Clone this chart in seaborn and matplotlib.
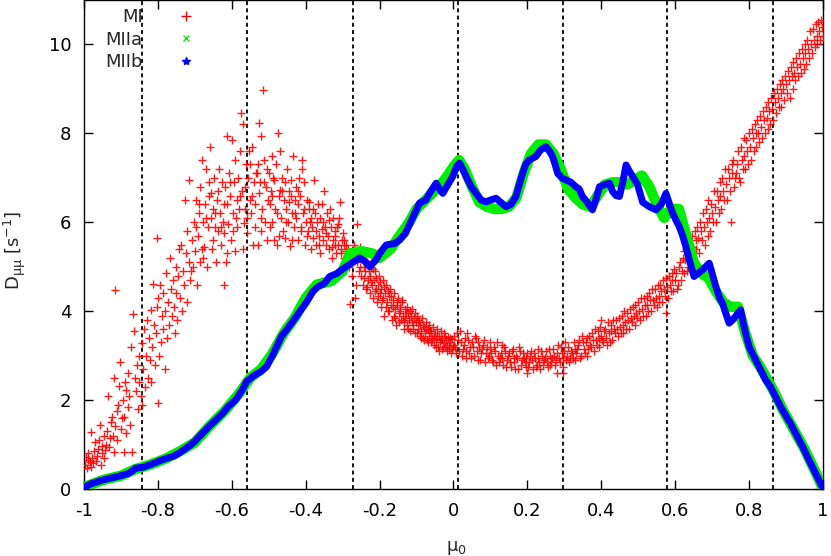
import matplotlib
matplotlib.use("Agg")
import matplotlib.pyplot as plt
from matplotlib.lines import Line2D
import numpy as np
import pandas as pd
import seaborn as sns

# MI scatter, split by region of mu0
mi_edge = [(-0.998,0.55),(-0.995,0.72),(-0.993,0.48),(-0.99,0.65),(-0.988,0.8),(-0.985,0.6),(-0.982,0.5),(-0.98,1.28),
           (-0.978,0.7),(-0.975,0.58),(-0.972,0.85),(-0.97,1.05),(-0.967,0.62),(-0.965,0.75),(-0.962,0.9),(-0.96,1.1),
           (-0.957,1.44),(-0.955,0.55),(-0.952,0.8),(-0.95,0.97),(-0.947,0.7),(-0.945,1.2),(-0.942,0.88),(-0.94,1.0),
           (-0.937,1.3),(-0.935,2.09),(-0.932,0.95),(-0.93,1.15),(-0.927,1.5),(-0.925,1.63),(-0.922,1.2),(-0.92,2.49),
           (-0.918,0.84),(-0.916,4.48),(-0.915,1.42),(-0.912,1.75),(-0.91,1.1),(-0.907,1.9),(-0.905,2.32),(-0.903,2.86),
           (-0.9,1.35),(-0.897,1.6),(-0.895,2.0),(-0.893,1.63),(-0.891,0.84),(-0.889,2.4),(-0.887,1.26),(-0.885,2.23),
           (-0.882,1.85),(-0.88,2.6),(-0.878,2.1),(-0.875,1.45),(-0.872,3.19),(-0.87,0.84),(-0.868,3.94),(-0.866,3.55),
           (-0.863,2.5),(-0.86,2.2),(-0.857,2.8),(-0.855,1.8),(-0.852,3.0),(-0.85,2.4)]
mi_rise = [(-0.847,2.1),(-0.844,3.28),(-0.842,1.9),(-0.84,2.7),(-0.837,3.6),(-0.834,2.3),(-0.832,3.0),(-0.83,3.8),
           (-0.828,2.5),(-0.825,3.4),(-0.822,2.9),(-0.82,4.03),(-0.818,2.4),(-0.815,3.2),(-0.812,4.62),(-0.81,3.7),
           (-0.807,2.8),(-0.805,3.5),(-0.803,5.64),(-0.802,4.1),(-0.8,4.3),(-0.8,1.93),(-0.797,3.0),(-0.795,4.6),
           (-0.792,3.3),(-0.79,3.9),(-0.787,4.4),(-0.785,3.6),(-0.782,2.7),(-0.78,4.0),(-0.777,4.86),(-0.775,3.4),
           (-0.772,4.2),(-0.77,3.7),(-0.767,5.2),(-0.765,4.5),(-0.762,3.9),(-0.76,4.7),(-0.757,4.1),(-0.755,3.5),
           (-0.752,5.0),(-0.75,4.4),(-0.747,3.8),(-0.745,4.8),(-0.742,5.4),(-0.74,4.3),(-0.738,5.5),(-0.735,4.0),
           (-0.732,4.9),(-0.73,4.6),(-0.728,6.5),(-0.725,5.3),(-0.722,4.2),(-0.72,5.8),(-0.717,5.1),(-0.715,6.95),
           (-0.712,4.7),(-0.71,4.9),(-0.707,5.6),(-0.705,5.0),(-0.702,6.0),(-0.7,5.35)]
mi_hump = [(-0.698,6.5),(-0.695,4.6),(-0.692,5.7),(-0.69,6.2),(-0.687,5.1),(-0.685,6.8),(-0.682,5.4),(-0.68,7.4),
           (-0.678,6.0),(-0.675,5.45),(-0.672,6.4),(-0.67,7.2),(-0.667,5.0),(-0.665,5.9),(-0.662,6.6),(-0.66,7.7),
           (-0.657,6.1),(-0.655,6.66),(-0.652,5.6),(-0.65,6.3),(-0.647,7.0),(-0.645,5.9),(-0.643,5.1),(-0.64,6.5),
           (-0.637,5.8),(-0.635,7.2),(-0.632,6.2),(-0.63,5.5),(-0.627,6.9),(-0.625,6.0),(-0.622,4.6),(-0.62,5.75),
           (-0.618,6.8),(-0.615,5.1),(-0.614,7.93),(-0.612,6.4),(-0.61,5.95),(-0.607,7.1),(-0.605,6.6),(-0.602,5.6),
           (-0.6,7.85),(-0.598,6.2),(-0.595,6.9),(-0.592,5.35),(-0.59,7.4),(-0.587,6.5),(-0.585,5.9),(-0.582,7.0),
           (-0.58,6.3),(-0.578,7.6),(-0.575,8.45),(-0.572,6.7),(-0.57,8.2),(-0.567,5.98),(-0.565,6.8),(-0.562,7.3),
           (-0.56,5.75),(-0.558,6.1),(-0.555,7.0),(-0.552,6.5),
           (-0.55,7.3),(-0.547,6.2),(-0.545,7.7),(-0.542,5.5),(-0.54,6.9),(-0.537,6.4),(-0.535,7.1),(-0.533,7.1),
           (-0.53,5.5),(-0.527,6.66),(-0.526,8.24),(-0.523,6.9),(-0.52,7.95),(-0.52,5.8),(-0.517,6.3),(-0.515,8.98),
           (-0.512,7.4),(-0.51,6.0),(-0.507,6.8),(-0.505,7.2),(-0.502,6.5),(-0.5,7.1),(-0.497,5.9),(-0.495,6.7),
           (-0.492,7.5),(-0.49,6.6),(-0.49,6.0),(-0.487,5.6),(-0.485,6.95),(-0.482,6.3),(-0.48,7.3),(-0.477,5.5),
           (-0.475,8.0),(-0.472,6.6),(-0.47,6.73),(-0.47,7.6),(-0.467,6.1),(-0.465,7.0),(-0.462,5.8),(-0.46,6.5),
           (-0.457,6.9),(-0.455,5.65),(-0.452,6.3),(-0.45,7.2),(-0.447,6.0),(-0.445,6.7),(-0.442,5.47),(-0.44,6.95),
           (-0.44,6.6),(-0.437,6.2),(-0.434,7.48),(-0.432,5.9),(-0.43,6.5),(-0.427,6.8),(-0.425,6.1),(-0.422,5.6),
           (-0.42,6.4),(-0.417,7.0),(-0.415,6.6),(-0.412,5.8),(-0.41,7.4),(-0.41,7.2),(-0.407,6.2),(-0.405,6.9),
           (-0.402,5.5)]
mi_hump_fill = [(-0.696,5.9),(-0.688,6.4),(-0.679,5.2),(-0.671,6.1),(-0.663,6.9),(-0.654,5.4),(-0.646,6.2),
                (-0.638,6.7),(-0.629,5.9),(-0.621,6.4),(-0.613,5.3),(-0.604,6.9),(-0.596,5.8),(-0.588,6.1),
                (-0.579,6.6),(-0.571,5.4),(-0.563,6.3),(-0.554,7.6),(-0.546,6.6),(-0.538,5.9),(-0.529,7.3),
                (-0.521,6.1),(-0.513,6.9),(-0.504,5.6),(-0.496,6.4),(-0.488,7.0),(-0.479,6.2),(-0.471,5.7),
                (-0.463,6.7),(-0.454,6.0),(-0.446,6.45),(-0.438,5.6),(-0.429,6.2),(-0.421,6.7),(-0.413,5.9),
                (-0.404,6.3),(-0.396,5.7),(-0.388,6.0),(-0.379,6.3),(-0.371,5.8),(-0.363,5.5),(-0.354,6.0),
                (-0.346,5.75),(-0.338,6.05),(-0.329,5.45),(-0.321,5.7),(-0.313,5.95),(-0.304,5.3),(-0.296,5.6),
                (-0.288,5.25)]
mi_fall = [(-0.4,6.0),(-0.397,6.5),(-0.395,5.8),(-0.392,6.3),(-0.39,6.45),(-0.387,5.4),(-0.385,6.1),(-0.382,5.9),
           (-0.38,5.65),(-0.377,6.95),(-0.375,6.2),(-0.372,5.5),(-0.37,6.0),(-0.367,6.4),(-0.365,5.7),(-0.362,6.1),
           (-0.36,5.3),(-0.357,5.85),(-0.355,6.4),(-0.352,5.6),(-0.35,6.7),(-0.347,5.9),(-0.345,5.5),(-0.342,6.2),
           (-0.34,5.7),(-0.337,5.4),(-0.335,6.3),(-0.332,5.9),(-0.33,5.2),(-0.327,5.6),(-0.325,6.1),(-0.322,5.5),
           (-0.32,5.8),(-0.317,5.3),(-0.315,5.9),(-0.312,5.5),(-0.31,6.1),(-0.308,6.46),(-0.305,5.4),(-0.302,5.6),
           (-0.3,5.75),(-0.297,5.2),(-0.295,5.5),(-0.292,5.35),(-0.29,5.5),(-0.287,5.1),(-0.285,5.4),(-0.282,5.0),
           (-0.28,5.16),(-0.28,4.17),(-0.277,5.3),(-0.275,4.8),(-0.272,5.2),(-0.27,5.5),(-0.267,4.3),(-0.265,4.6),
           (-0.262,5.95),(-0.26,5.1),(-0.257,4.9),(-0.254,5.45),(-0.252,5.0),
           (-0.25,4.8),(-0.247,5.2),(-0.245,4.6),(-0.242,5.0),(-0.24,4.9),(-0.237,4.5),(-0.235,5.1),(-0.232,4.7),
           (-0.23,4.9),(-0.227,4.4),(-0.225,4.8),(-0.222,5.0),(-0.22,4.6),(-0.217,4.3),(-0.215,4.7),(-0.212,4.9),
           (-0.21,4.5),(-0.207,4.2),(-0.205,4.6),(-0.202,4.8),(-0.2,4.4),(-0.197,4.1),(-0.195,4.5),(-0.192,4.7),
           (-0.19,4.3),(-0.187,3.9),(-0.185,4.4),(-0.182,4.6),(-0.18,4.2),(-0.177,4.0),(-0.175,4.35),(-0.172,4.5),
           (-0.17,4.15),(-0.167,3.8),(-0.165,4.25),(-0.162,3.9),(-0.16,4.4),(-0.157,4.05),(-0.155,3.7),(-0.152,4.15),
           (-0.15,4.3),(-0.147,3.95),(-0.145,4.1),(-0.142,3.8),(-0.14,4.2),(-0.137,3.9),(-0.135,3.6),(-0.132,4.05),
           (-0.13,3.85),(-0.127,4.1),(-0.125,3.7),(-0.122,3.95),(-0.12,3.8),(-0.117,3.55),(-0.115,3.9),(-0.112,4.05),
           (-0.11,3.7),(-0.107,3.85),(-0.105,3.5),(-0.102,3.75),(-0.1,3.9),(-0.097,3.6),(-0.095,3.8),(-0.092,3.45),
           (-0.09,3.7),(-0.087,3.55),(-0.085,3.85),(-0.082,3.4),(-0.08,3.65),(-0.077,3.5),(-0.075,3.75),(-0.072,3.35),
           (-0.07,3.6),(-0.067,3.45),(-0.065,3.7),(-0.062,3.3),(-0.06,3.55),(-0.057,3.4),(-0.055,3.65),(-0.052,3.25),
           (-0.05,3.5),(-0.047,3.38),(-0.045,3.6),(-0.042,3.2),(-0.04,3.45),(-0.037,3.3),(-0.035,3.55),(-0.032,3.15),
           (-0.03,3.4),(-0.027,3.28),(-0.025,3.5),(-0.022,3.2),(-0.02,3.35),(-0.017,3.1),(-0.015,3.42),(-0.012,3.25),
           (-0.01,3.3),(-0.007,3.05),(-0.005,3.38),(-0.002,3.2)]
mi_fall_fill = [(-0.2485,5.3),(-0.2435,4.75),(-0.2385,5.15),(-0.2335,4.55),(-0.2285,5.05),(-0.2235,4.65),
                (-0.2185,4.95),(-0.2135,4.45),(-0.2085,4.75),(-0.2035,4.35),(-0.1985,4.65),(-0.1935,4.25),
                (-0.1885,4.55),(-0.1835,4.1),(-0.1785,4.45),(-0.1735,4.0),(-0.1685,4.35),(-0.1635,4.1),
                (-0.1585,3.85),(-0.1535,4.2),(-0.1485,3.75),(-0.1435,4.0),(-0.1385,4.25),(-0.1335,3.75),
                (-0.1285,3.95),(-0.1235,3.6),(-0.1185,4.0),(-0.1135,3.75),(-0.1085,3.6),(-0.1035,3.95),
                (-0.0985,3.5),(-0.0935,3.75),(-0.0885,3.4),(-0.0835,3.7),(-0.0785,3.35),(-0.0735,3.6),
                (-0.0685,3.3),(-0.0635,3.55),(-0.0585,3.35),(-0.0535,3.45),(-0.0485,3.2),(-0.0435,3.45),
                (-0.0385,3.1),(-0.0335,3.35),(-0.0285,3.2),(-0.0235,3.45),(-0.0185,3.2),(-0.0135,3.15),
                (-0.0085,3.4),(-0.0035,3.15)]
mi_valley = [(0.0,3.45),(0.005,3.2),(0.01,3.5),(0.015,3.1),(0.02,3.3),(0.025,3.15),(0.03,3.4),(0.035,2.95),
             (0.04,3.35),(0.045,3.2),(0.05,3.3),(0.055,3.0),(0.06,3.4),(0.065,2.9),(0.07,3.2),(0.075,3.05),
             (0.08,3.25),(0.085,2.85),(0.09,3.2),(0.095,3.0),(0.1,3.15),(0.105,2.9),(0.11,3.2),(0.115,2.8),
             (0.12,3.0),(0.125,2.95),(0.13,3.25),(0.135,2.8),(0.14,3.1),(0.145,2.9),(0.15,3.05),(0.155,2.75),
             (0.16,3.15),(0.165,2.85),(0.17,3.0),(0.175,2.7),(0.18,3.1),(0.185,2.9),(0.19,2.95),(0.195,2.75),
             (0.2,3.05),(0.2,2.62),(0.205,2.85),(0.21,3.1),(0.215,2.7),(0.22,2.95),(0.225,2.8),(0.23,3.15),
             (0.235,2.7),(0.24,3.0),(0.245,2.9),(0.25,3.1),(0.255,2.75),(0.26,3.0),(0.265,2.85),(0.27,3.15),
             (0.275,2.8),(0.28,3.05),(0.28,2.62),(0.285,2.95),(0.29,3.2),(0.295,2.75),(0.295,2.6),(0.3,3.1),
             (0.305,2.9),(0.31,3.2),(0.315,2.95),(0.32,3.05),(0.325,3.3),(0.33,2.9),(0.335,3.15),(0.34,3.35),
             (0.345,3.0),(0.35,3.3),(0.355,3.05),(0.36,3.4),(0.365,3.15),(0.37,3.25),(0.375,3.5),(0.38,3.1),
             (0.385,3.35),(0.39,3.55),(0.395,3.2),(0.4,3.45),(0.4,3.8),(0.405,3.3),(0.41,3.6),(0.415,3.25),
             (0.42,3.5),(0.425,3.7),(0.43,3.35),(0.435,3.6),(0.44,3.8),(0.445,3.45),(0.45,3.65),(0.455,3.9),
             (0.46,3.5),(0.465,3.75),(0.47,3.95),(0.475,3.6),(0.48,3.85),(0.485,4.1),(0.49,3.7),(0.495,3.95),
             (0.5,4.2),(0.505,3.8),(0.51,4.05),(0.515,4.3),(0.52,3.9),(0.525,4.15),(0.53,4.4),(0.535,4.0),
             (0.54,4.25),(0.545,4.5),(0.55,4.1),(0.555,4.35),(0.56,4.6),(0.565,4.2),(0.57,4.5),(0.575,3.95),
             (0.575,4.75),(0.58,4.3),(0.585,4.6),(0.59,4.85),(0.595,4.45),(0.6,4.7)]
mi_valley_fill = [(0.0025,3.25),(0.0075,3.05),(0.0125,3.35),(0.0175,3.55),(0.0225,3.0),(0.0275,3.25),(0.0325,3.1),
                  (0.0375,3.5),(0.0425,3.05),(0.0475,2.95),(0.0525,3.2),(0.0575,3.45),(0.0625,3.1),(0.0675,3.3),
                  (0.0725,2.9),(0.0775,3.15),(0.0825,3.35),(0.0875,3.05),(0.0925,2.95),(0.0975,3.3),(0.1025,3.05),
                  (0.1075,2.85),(0.1125,3.1),(0.1175,3.3),(0.1225,2.85),(0.1275,3.05),(0.1325,2.95),(0.1375,3.2),
                  (0.1425,2.75),(0.1475,3.0),(0.1525,2.85),(0.1575,3.1),(0.1625,2.95),(0.1675,2.7),(0.1725,2.95),
                  (0.1775,3.2),(0.1825,2.8),(0.1875,3.05),(0.1925,2.85),(0.1975,2.95),(0.2025,2.75),(0.2075,3.0),
                  (0.2125,2.9),(0.2175,3.05),(0.2225,2.75),(0.2275,2.95),(0.2325,2.85),(0.2375,3.1),(0.2425,2.8),
                  (0.2475,2.95),(0.2525,2.85),(0.2575,3.15),(0.2625,2.8),(0.2675,2.95),(0.2725,3.0),(0.2775,2.9),
                  (0.2825,3.25),(0.2875,2.85),(0.2925,3.05),(0.2975,2.95),(0.3025,3.3),(0.3075,3.0),(0.3125,2.85),
                  (0.3175,3.1),(0.3225,2.95),(0.3275,3.15),(0.3325,3.05),(0.3375,3.25),(0.3425,2.95),(0.3475,3.45),
                  (0.3525,3.15),(0.3575,3.3),(0.3625,3.0),(0.3675,3.45),(0.3725,3.2),(0.3775,3.35),(0.3825,3.6),
                  (0.3875,3.25),(0.3925,3.4),(0.3975,3.65),(0.4025,3.35),(0.4075,3.55),(0.4125,3.4),(0.4175,3.75),
                  (0.4225,3.3),(0.4275,3.55),(0.4325,3.8),(0.4375,3.5),(0.4425,3.6),(0.4475,3.85),(0.4525,3.5),
                  (0.4575,3.7),(0.4625,4.0),(0.4675,3.6),(0.4725,3.8),(0.4775,4.05),(0.4825,3.75),(0.4875,3.9),
                  (0.4925,4.15),(0.4975,3.85),(0.5025,4.0),(0.5075,4.3),(0.5125,3.9),(0.5175,4.15),(0.5225,4.35),
                  (0.5275,4.0),(0.5325,4.25),(0.5375,4.5),(0.5425,4.15),(0.5475,4.3),(0.5525,4.6),(0.5575,4.2),
                  (0.5625,4.45),(0.5675,4.7),(0.5725,4.35),(0.5775,4.55),(0.5825,4.8),(0.5875,4.45),(0.5925,4.7),
                  (0.5975,4.95)]
mi_tail = [(0.605,4.5),(0.61,5.0),(0.615,4.7),(0.62,5.2),(0.625,4.85),(0.63,5.4),(0.635,5.0),(0.64,5.3),
           (0.645,5.7),(0.65,5.1),(0.655,5.6),(0.66,5.9),(0.665,5.3),(0.67,5.8),(0.675,6.2),(0.68,5.5),
           (0.685,6.0),(0.69,6.5),(0.695,5.8),(0.7,6.2),(0.705,6.7),(0.71,6.0),(0.715,6.5),(0.72,6.9),
           (0.725,6.3),(0.73,6.7),(0.735,7.2),(0.74,6.5),(0.745,7.0),(0.75,6.0),(0.755,7.3),(0.76,6.8),
           (0.765,7.1),(0.77,7.6),(0.775,6.9),(0.78,7.4),(0.785,7.9),(0.79,7.2),(0.795,7.6),(0.8,8.0),
           (0.805,7.4),(0.81,7.9),(0.815,8.2),(0.82,7.7),(0.825,8.0),(0.83,8.4),(0.835,7.9),(0.84,8.3),
           (0.845,8.6),(0.85,8.1),(0.855,8.5),(0.86,8.8),(0.865,8.3),(0.87,8.7),(0.875,9.0),(0.88,8.6),
           (0.885,8.9),(0.89,9.2),(0.895,8.75),(0.9,9.1),(0.905,9.4),(0.91,8.8),(0.915,9.3),(0.92,9.6),
           (0.925,9.2),(0.93,9.5),(0.935,9.8),(0.94,9.35),(0.945,9.7),(0.95,10.0),(0.955,9.55),(0.96,9.9),
           (0.965,10.3),(0.97,9.8),(0.975,10.1),(0.98,10.45),(0.985,10.0),(0.99,10.3),(0.995,10.55),(1.0,10.2)]
mi_tail_fill = [(0.6025,4.85),(0.6075,4.6),(0.6125,5.1),(0.6175,4.9),(0.6225,5.35),(0.6275,5.15),(0.6325,4.9),
                (0.6375,5.5),(0.6425,5.2),(0.6475,5.45),(0.6525,5.8),(0.6575,5.4),(0.6625,5.65),(0.6675,6.0),
                (0.6725,5.6),(0.6775,5.9),(0.6825,6.3),(0.6875,5.7),(0.6925,6.1),(0.6975,6.4),(0.7025,6.0),
                (0.7075,6.35),(0.7125,6.7),(0.7175,6.2),(0.7225,6.6),(0.7275,7.0),(0.7325,6.5),(0.7375,6.85),
                (0.7425,7.2),(0.7475,6.7),(0.7525,7.1),(0.7575,7.4),(0.7625,7.0),(0.7675,7.3),(0.7725,7.0),
                (0.7775,7.7),(0.7825,7.2),(0.7875,7.5),(0.7925,7.85),(0.7975,7.3),(0.8025,7.7),(0.8075,8.1),
                (0.8125,7.6),(0.8175,8.0),(0.8225,8.3),(0.8275,7.8),(0.8325,8.15),(0.8375,8.5),(0.8425,8.0),
                (0.8475,8.35),(0.8525,8.7),(0.8575,8.2),(0.8625,8.55),(0.8675,8.9),(0.8725,8.45),(0.8775,8.8),
                (0.8825,9.1),(0.8875,8.6),(0.8925,9.0),(0.8975,9.3),(0.9025,8.9),(0.9075,9.2),(0.9125,9.5),
                (0.9175,9.0),(0.9225,9.35),(0.9275,9.7),(0.9325,9.3),(0.9375,9.55),(0.9425,9.9),(0.9475,9.45),
                (0.9525,9.8),(0.9575,10.1),(0.9625,9.7),(0.9675,10.0),(0.9725,10.35),(0.9775,9.95),(0.9825,10.2),
                (0.9875,10.5),(0.9925,10.1),(0.9975,10.4)]

# MIIa (green) and MIIb (blue) traces
miia_x = [-1.0,-0.95,-0.9,-0.86,-0.82,-0.78,-0.74,-0.7,-0.66,-0.62,-0.58,-0.55,-0.52,-0.49,-0.46,-0.43,
          -0.4,-0.37,-0.33,-0.3,-0.28,-0.25,-0.22,-0.2,-0.17,-0.15,-0.12,-0.1,-0.07,-0.04,-0.02,0.0,
          0.015,0.03,0.05,0.07,0.09,0.11,0.13,0.15,0.17,0.19,0.21,0.23,0.25,0.27,0.29,0.31,
          0.33,0.35,0.37,0.39,0.41,0.43,0.45,0.47,0.49,0.51,0.53,0.55,0.57,0.59,0.61,0.63,
          0.65,0.67,0.69,0.71,0.73,0.75,0.77,0.79,0.81,0.83,0.85,0.87,0.89,0.91,0.93,0.95,0.97,0.99,1.0]
miia_y = [0.04,0.2,0.3,0.45,0.55,0.68,0.85,1.05,1.42,1.75,2.15,2.5,2.7,3.05,3.5,3.85,
          4.3,4.6,4.68,4.9,5.3,5.35,5.3,5.2,5.4,5.65,6.0,6.3,6.55,6.8,7.0,7.25,
          7.4,7.2,6.8,6.45,6.35,6.3,6.3,6.35,6.55,7.1,7.55,7.75,7.75,7.55,7.2,6.75,
          6.55,6.4,6.35,6.6,6.85,6.9,6.9,6.85,6.95,7.05,6.8,6.4,6.1,6.3,6.3,5.7,
          5.1,4.85,4.75,4.45,4.2,4.1,4.1,3.5,3.0,2.75,2.45,2.15,1.8,1.5,1.2,0.9,0.55,0.2,0.0]

miib_x = [-1.0,-0.98,-0.95,-0.92,-0.9,-0.883,-0.87,-0.86,-0.84,-0.82,-0.8,-0.78,-0.754,-0.73,-0.71,-0.697,
          -0.68,-0.66,-0.64,-0.625,-0.61,-0.59,-0.57,-0.56,-0.54,-0.52,-0.506,-0.49,-0.466,-0.45,-0.434,-0.415,
          -0.398,-0.38,-0.367,-0.35,-0.335,-0.315,-0.3,-0.281,-0.263,-0.254,-0.24,-0.227,-0.21,-0.2,-0.182,-0.16,
          -0.146,-0.13,-0.119,-0.105,-0.092,-0.075,-0.065,-0.047,-0.038,-0.029,-0.015,-0.002,0.008,0.016,0.025,0.034,
          0.048,0.061,0.075,0.088,0.1,0.115,0.128,0.142,0.155,0.169,0.178,0.187,0.195,0.205,0.223,0.235,
          0.25,0.26,0.268,0.275,0.282,0.293,0.305,0.318,0.331,0.34,0.349,0.362,0.376,0.385,0.395,0.41,
          0.422,0.43,0.44,0.449,0.458,0.467,0.476,0.485,0.498,0.512,0.53,0.548,0.562,0.575,0.585,0.593,
          0.611,0.62,0.629,0.64,0.651,0.662,0.674,0.692,0.7,0.71,0.72,0.728,0.737,0.746,0.755,0.765,
          0.777,0.785,0.792,0.8,0.815,0.831,0.845,0.858,0.87,0.89,0.91,0.926,0.945,0.962,0.98,0.998]
miib_y = [0.04,0.12,0.2,0.26,0.3,0.34,0.4,0.47,0.49,0.55,0.62,0.68,0.75,0.88,1.0,1.1,
          1.25,1.42,1.58,1.7,1.85,2.0,2.25,2.42,2.55,2.65,2.75,3.0,3.43,3.6,3.78,4.0,
          4.2,4.45,4.55,4.62,4.78,4.85,4.95,5.05,5.15,5.2,5.12,5.0,5.15,5.3,5.49,5.52,
          5.6,5.75,5.95,6.2,6.43,6.5,6.65,6.88,6.75,6.65,6.85,7.03,7.25,7.33,7.2,7.03,
          6.8,6.65,6.5,6.46,6.5,6.54,6.45,6.35,6.4,6.58,6.85,7.1,7.3,7.4,7.48,7.62,
          7.7,7.6,7.48,7.3,7.1,7.0,6.95,6.9,6.8,6.75,6.58,6.45,6.28,6.5,6.8,6.85,
          6.88,6.7,6.6,6.58,6.9,7.29,7.15,7.03,6.85,6.45,6.35,6.28,6.4,6.65,6.4,6.2,
          5.9,5.7,5.45,5.1,4.78,4.85,4.93,5.08,4.85,4.55,4.3,4.18,3.95,3.73,3.8,3.9,
          4.03,3.7,3.45,3.2,2.95,2.68,2.45,2.3,2.1,1.78,1.5,1.25,0.95,0.65,0.35,0.05]

# dashed guide positions
guide_x = [-0.842, -0.558, -0.273, 0.011, 0.295, 0.578, 0.865]

mi = pd.DataFrame(mi_edge + mi_rise + mi_hump + mi_hump_fill + mi_fall + mi_fall_fill
                  + mi_valley + mi_valley_fill + mi_tail + mi_tail_fill, columns=['mu', 'D'])

sns.set_style('ticks')
plt.rcParams['font.family'] = ['DejaVu Sans']
plt.rcParams['axes.unicode_minus'] = False

fig = plt.figure(figsize=(8.31, 5.56), dpi=100)
ax = fig.add_axes([84/831, 1 - 489/556, 739/831, 489/556])

for gx in guide_x:
    ax.axvline(gx, color='black', lw=1.3, ls=(0, (2.2, 1.8)), zorder=1)

sns.scatterplot(data=mi, x='mu', y='D', marker='+', color='red', s=28, linewidth=1.0,
                alpha=0.9, ax=ax, zorder=3)
sns.lineplot(x=miia_x, y=miia_y, color='#00ee00', lw=7.5, sort=False, ax=ax, zorder=4,
             solid_capstyle='round', solid_joinstyle='round')
sns.lineplot(x=miib_x, y=miib_y, color='#0000ff', lw=5, sort=False, ax=ax, zorder=5,
             solid_capstyle='round', solid_joinstyle='round')

ax.set_xlim(-1, 1)
ax.set_ylim(0, 11)
ax.set_xticks(np.arange(-1, 1.01, 0.2))
ax.set_xticklabels(['-1', '-0.8', '-0.6', '-0.4', '-0.2', '0', '0.2', '0.4', '0.6', '0.8', '1'])
ax.set_yticks([0, 2, 4, 6, 8, 10])
ax.tick_params(direction='in', length=6.5, width=1, top=True, right=True,
               labelsize=13, pad=9, colors='black')
for sp in ax.spines.values():
    sp.set_visible(True)
    sp.set_linewidth(1)
    sp.set_color('black')

ax.set_xlabel(r'μ$_{\mathregular{0}}$', fontsize=13)
ax.set_ylabel(r'D$_{\mathregular{μμ}}$ [s$^{\mathregular{-1}}$]', fontsize=13)
ax.xaxis.set_label_coords((456 - 84) / 739, -(539 - 489) / 489)
ax.yaxis.set_label_coords(-(84 - 28) / 739, (489 - 250) / 489)

handles = [Line2D([], [], ls='none', marker='+', color='red', markersize=7, mew=1),
           Line2D([], [], ls='none', marker='x', color='#00ee00', markersize=5, mew=1),
           Line2D([], [], ls='none', marker='*', color='#0000ff', markersize=6, mew=1)]
ax.legend(handles, ['MI', 'MIIa', 'MIIb'], loc='upper right', markerfirst=False, frameon=False,
          fontsize=13, handlelength=1.0, handletextpad=1.9, labelspacing=0.25, borderpad=0,
          borderaxespad=0, bbox_to_anchor=(195/831, 1 - 8/556), bbox_transform=fig.transFigure)

fig.savefig('out.png', dpi=100)
